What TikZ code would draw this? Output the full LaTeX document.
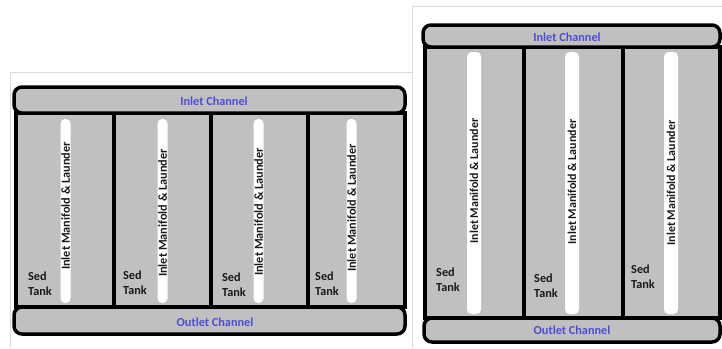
\documentclass[tikz,border=0pt]{standalone}
\usepackage{fontspec}
\setmainfont{Carlito}
\definecolor{tankgray}{RGB}{192,192,192}
\definecolor{chanblue}{RGB}{78,78,212}
\definecolor{framegray}{RGB}{218,218,218}
\tikzset{
	channel/.style={draw=black, line width=3.5bp, fill=tankgray, rounded corners=8bp},
	tankwall/.style={draw=black, line width=4bp, fill=tankgray},
	divider/.style={draw=black, line width=3.5bp},
	launder/.style={fill=white, draw=none, rounded corners=4.5bp},
	chanlabel/.style={text=chanblue, inner sep=0pt, font=\bfseries\fontsize{12.3}{14}\selectfont},
	sedlabel/.style={anchor=base west, align=left, inner sep=0pt, text=black!90, font=\bfseries\fontsize{12.3}{15}\selectfont},
	manlabel/.style={rotate=90, inner sep=0pt, text=black!90, font=\bfseries\fontsize{12.3}{14}\selectfont}
}

\begin{document}
\begin{tikzpicture}[x=1bp, y=-1bp]
			%%%%% START %%%%%
			\useasboundingbox (0, 0) rectangle (722, 348);
			
			% screenshot frames
			\draw[framegray, line width=1bp] (10, 348) -- (10, 72) -- (412, 72);
			\draw[framegray, line width=1bp] (412, 348) -- (412, 6) -- (722, 6);
			
			%%% left layout: four tanks
			\draw[tankwall] (16, 113) rectangle (405, 307);
			\draw[divider] (114, 113) -- (114, 307);
			\draw[divider] (211, 113) -- (211, 307);
			\draw[divider] (308, 113) -- (308, 307);
			
			\draw[channel] (14, 87) rectangle (405, 113);
			\draw[channel] (14, 307) rectangle (405, 334);
			\node[chanlabel] (inletA) at (214, 101) {Inlet Channel};
			\node[chanlabel] (outletA) at (215, 322) {Outlet Channel};
			
			\fill[launder] (60.5, 119) rectangle (70.5, 303);
			\fill[launder] (157.5, 119) rectangle (167.5, 303);
			\fill[launder] (253.5, 119) rectangle (263.5, 303);
			\fill[launder] (346.5, 119) rectangle (356.5, 303);
			
			\node[manlabel] (manA1) at (65.5, 206) {Inlet Manifold \& Launder};
			\node[manlabel] (manA2) at (162.5, 213) {Inlet Manifold \& Launder};
			\node[manlabel] (manA3) at (258.5, 212) {Inlet Manifold \& Launder};
			\node[manlabel] (manA4) at (351.5, 208) {Inlet Manifold \& Launder};
			
			% base = baseline of the lower line
			\node[sedlabel] (sedA1) at (28, 295) {Sed\\Tank};
			\node[sedlabel] (sedA2) at (123, 294) {Sed\\Tank};
			\node[sedlabel] (sedA3) at (222, 296) {Sed\\Tank};
			\node[sedlabel] (sedA4) at (315, 295) {Sed\\Tank};
			
			%%% right layout: three tanks
			\draw[tankwall] (425, 47) rectangle (720, 318);
			\draw[divider] (524, 47) -- (524, 318);
			\draw[divider] (623, 47) -- (623, 318);
			
			\draw[channel] (423, 25) rectangle (720, 47);
			\draw[channel] (424, 318) rectangle (720, 342);
			\node[chanlabel] (inletB) at (567, 37) {Inlet Channel};
			\node[chanlabel] (outletB) at (572, 330) {Outlet Channel};
			
			\fill[launder] (467, 52) rectangle (481, 314);
			\fill[launder] (565, 52) rectangle (579, 314);
			\fill[launder] (664, 52) rectangle (678, 314);
			
			\node[manlabel, font=\bfseries\fontsize{12}{14}\selectfont] (manB1) at (474, 181) {Inlet Manifold \& Launder};
			\node[manlabel, font=\bfseries\fontsize{12}{14}\selectfont] (manB2) at (572, 182) {Inlet Manifold \& Launder};
			\node[manlabel, font=\bfseries\fontsize{12}{14}\selectfont] (manB3) at (671, 183) {Inlet Manifold \& Launder};
			
			\node[sedlabel] (sedB1) at (436, 291) {Sed\\Tank};
			\node[sedlabel] (sedB2) at (534, 297) {Sed\\Tank};
			\node[sedlabel] (sedB3) at (631, 288) {Sed\\Tank};
			
			%%%%% END %%%%%
\end{tikzpicture}
\end{document}
